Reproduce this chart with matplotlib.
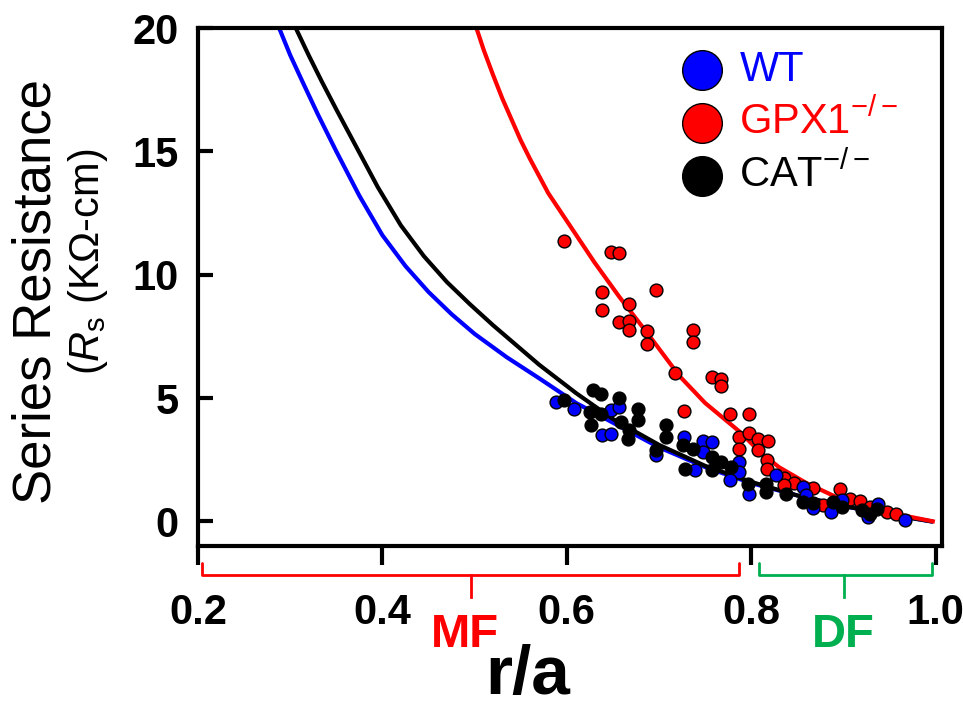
#! python
import matplotlib
matplotlib.use('Agg')
import matplotlib.pyplot as plt

plt.rcParams['font.family'] = ['Liberation Sans', 'DejaVu Sans']
plt.rcParams['mathtext.fontset'] = 'custom'
plt.rcParams['mathtext.rm'] = 'Liberation Sans'
plt.rcParams['mathtext.it'] = 'Liberation Sans:italic'
plt.rcParams['mathtext.bf'] = 'Liberation Sans:bold'

# ------- data

# WT (blue)
wt_x = [0.588, 0.608, 0.648, 0.657, 0.638, 0.648, 0.697, 0.727, 0.748, 0.758,
        0.748, 0.739, 0.787, 0.787, 0.777, 0.798, 0.827, 0.856, 0.860, 0.867,
        0.887, 0.898, 0.927, 0.938, 0.967]
wt_y = [4.84, 4.57, 4.50, 4.64, 3.49, 3.56, 2.68, 3.42, 3.26, 3.22,
        2.81, 2.07, 2.41, 2.00, 1.66, 1.10, 1.87, 1.39, 1.05, 0.56,
        0.38, 0.85, 0.17, 0.72, 0.07]

# GPX1-/- (red)
gpx_x = [0.597, 0.648, 0.657, 0.638, 0.697, 0.668, 0.638, 0.657, 0.668, 0.668,
         0.687, 0.687, 0.737, 0.737, 0.717, 0.757, 0.767, 0.767, 0.727, 0.777,
         0.798, 0.787, 0.798, 0.807, 0.818, 0.787, 0.807, 0.817, 0.817, 0.836,
         0.847, 0.836, 0.867, 0.896, 0.907, 0.918, 0.878, 0.929, 0.947, 0.957]
gpx_y = [11.37, 10.93, 10.89, 9.30, 9.37, 8.83, 8.58, 8.09, 8.11, 7.75,
         7.72, 7.18, 7.75, 7.27, 6.02, 5.85, 5.79, 5.49, 4.48, 4.37,
         4.37, 3.42, 3.58, 3.35, 3.26, 2.95, 2.88, 2.50, 2.14, 1.77,
         1.55, 1.46, 1.37, 1.33, 0.92, 0.82, 0.65, 0.58, 0.38, 0.31]

# CAT-/- (black)
cat_x = [0.597, 0.628, 0.637, 0.657, 0.625, 0.637, 0.626, 0.659, 0.677, 0.677,
         0.668, 0.666, 0.708, 0.708, 0.697, 0.726, 0.737, 0.758, 0.767, 0.728,
         0.757, 0.778, 0.797, 0.816, 0.816, 0.838, 0.856, 0.867, 0.889, 0.898,
         0.920, 0.929, 0.936]
cat_y = [4.91, 5.31, 5.18, 4.98, 4.43, 4.37, 3.89, 4.03, 4.57, 4.10,
         3.69, 3.35, 3.89, 3.42, 2.88, 3.08, 2.95, 2.61, 2.41, 2.14,
         2.07, 2.20, 1.53, 1.53, 1.19, 1.12, 0.78, 0.74, 0.78, 0.58,
         0.45, 0.31, 0.52]

# fitted curves
wt_fit_x = [0.288, 0.30, 0.313, 0.33, 0.35, 0.375, 0.40, 0.425, 0.45, 0.475,
            0.50, 0.535, 0.57, 0.61, 0.65, 0.70, 0.75, 0.80, 0.85, 0.90,
            0.95, 0.995]
wt_fit_y = [20.0, 18.9, 17.85, 16.5, 15.0, 13.2, 11.6, 10.35, 9.3, 8.4,
            7.6, 6.65, 5.8, 4.8, 4.0, 3.0, 2.2, 1.55, 1.05, 0.62,
            0.28, 0.0]
cat_fit_x = [0.306, 0.32, 0.334, 0.35, 0.37, 0.395, 0.42, 0.445, 0.47, 0.495,
             0.52, 0.545, 0.57, 0.61, 0.65, 0.70, 0.75, 0.80, 0.85, 0.90,
             0.95, 0.995]
cat_fit_y = [20.0, 18.9, 17.85, 16.7, 15.3, 13.55, 12.0, 10.75, 9.7, 8.8,
             7.95, 7.15, 6.35, 5.2, 4.15, 3.1, 2.25, 1.6, 1.05, 0.62,
             0.28, 0.0]
gpx_fit_x = [0.502, 0.51, 0.52, 0.53, 0.54, 0.55, 0.56, 0.58, 0.605, 0.63,
             0.657, 0.69, 0.722, 0.75, 0.787, 0.81, 0.83, 0.86, 0.90, 0.95,
             0.997]
gpx_fit_y = [20.0, 19.1, 18.1, 17.15, 16.3, 15.45, 14.7, 13.3, 11.9, 10.5,
             9.1, 7.5, 5.9, 4.8, 3.65, 2.8, 2.2, 1.55, 0.85, 0.35,
             0.0]

x_ticks = [0.2, 0.4, 0.6, 0.8, 1.0]
x_tick_labels = ['0.2', '0.4', '0.6', '0.8', '1.0']
y_ticks = [0, 5, 10, 15, 20]

BLUE = '#0000ff'
RED = '#ff0000'
GREEN = '#00b050'


def draw_bracket(ax, x0, x1, xm, color):
    # bracket under the x axis
    y_top = -1.70
    y_bar = -2.19
    y_stem = -3.08
    ax.plot([x0, x0, x1, x1], [y_top, y_bar, y_bar, y_top], color=color,
            lw=2, clip_on=False, solid_capstyle='round')
    ax.plot([xm, xm], [y_bar, y_stem], color=color, lw=2, clip_on=False)


def main():
    fig = plt.figure(figsize=(9.63, 7.13), dpi=100)
    ax = fig.add_axes([198 / 963, 1 - 546 / 713, 744 / 963, 518 / 713])

    # curves under the points
    ax.plot(wt_fit_x, wt_fit_y, color=BLUE, lw=3, zorder=2,
            solid_joinstyle='round')
    ax.plot(cat_fit_x, cat_fit_y, color='black', lw=3, zorder=2,
            solid_joinstyle='round')
    ax.plot(gpx_fit_x, gpx_fit_y, color=RED, lw=3, zorder=2,
            solid_joinstyle='round')

    h_gpx = ax.scatter(gpx_x, gpx_y, s=85, c=RED, edgecolors='black',
                       linewidths=1, zorder=3, label='GPX1$^{-/-}$')
    h_wt = ax.scatter(wt_x, wt_y, s=85, c=BLUE, edgecolors='black',
                      linewidths=1, zorder=4, label='WT')
    h_cat = ax.scatter(cat_x, cat_y, s=85, c='black', edgecolors='black',
                       linewidths=1, zorder=5, label='CAT$^{-/-}$')

    ax.set_xlim(0.2, 1.007)
    ax.set_ylim(-1.0, 20)

    for sp in ax.spines.values():
        sp.set_linewidth(3)

    ax.set_xticks(x_ticks)
    ax.set_xticklabels(x_tick_labels, fontsize=30, fontweight='bold')
    ax.set_yticks(y_ticks)
    ax.set_yticklabels([str(v) for v in y_ticks], fontsize=30, fontweight='bold')
    ax.tick_params(axis='y', direction='in', length=11, width=3, pad=14)
    ax.tick_params(axis='x', direction='out', length=14, width=3, pad=20)

    # legend
    leg = ax.legend(handles=[h_wt, h_gpx, h_cat], loc='upper left',
                    bbox_to_anchor=(0.638, 0.9575), frameon=False,
                    fontsize=30, markerscale=3.1, scatterpoints=1,
                    handlelength=1.4, handletextpad=0.2, labelspacing=0.25,
                    borderpad=0, borderaxespad=0)
    for txt, col in zip(leg.get_texts(), [BLUE, RED, 'black']):
        txt.set_color(col)

    # MF / DF regions
    draw_bracket(ax, 0.204, 0.787, 0.496, RED)
    draw_bracket(ax, 0.808, 0.996, 0.901, GREEN)
    ax.text(0.49, -4.6, 'MF', color=RED, fontsize=34, fontweight='bold',
            ha='center', va='center', clip_on=False)
    ax.text(0.90, -4.6, 'DF', color=GREEN, fontsize=34, fontweight='bold',
            ha='center', va='center', clip_on=False)

    # axis titles
    fig.text(528 / 963, 1 - 694 / 713, 'r/a', fontsize=50, fontweight='bold',
             ha='center', va='baseline')
    fig.text(37 / 963, 1 - 292 / 713, 'Series Resistance', fontsize=38,
             rotation=90, ha='center', va='center')
    fig.text(88 / 963, 1 - 262 / 713, r'($R_\mathrm{s}$ (KΩ-cm)', fontsize=30,
             rotation=90, ha='center', va='center')

    fig.savefig('out.png', dpi=100)


if __name__ == "__main__":
    main()
